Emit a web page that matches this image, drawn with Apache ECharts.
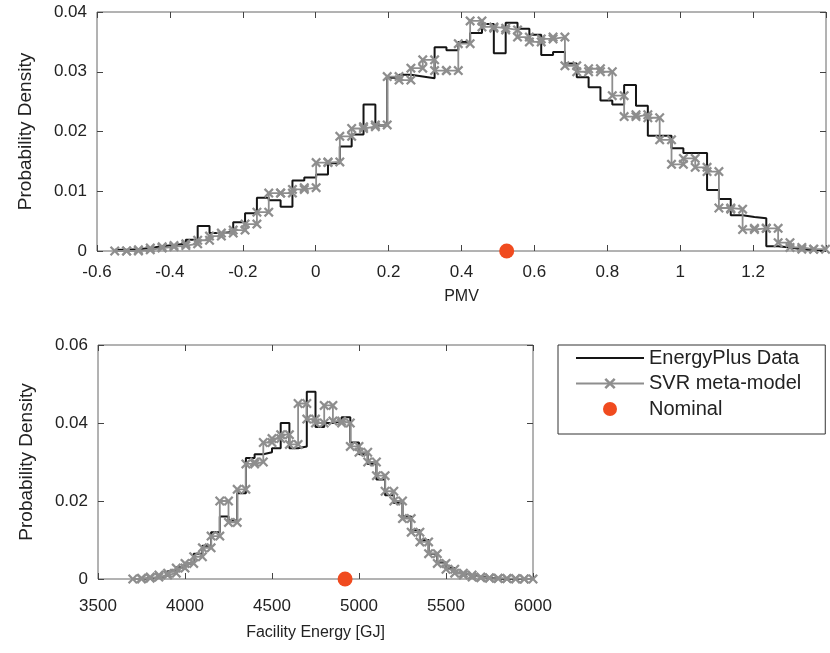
<!DOCTYPE html>
<html>
<head>
<meta charset="utf-8">
<script src="https://cdn.jsdelivr.net/npm/echarts@6/dist/echarts.min.js"></script>
<style>html,body{margin:0;padding:0;background:#fff;}#c{width:830px;height:653px;}</style>
</head>
<body>
<div id="c"></div>
<script>
// ---- Data ----
// Top panel: PMV histogram, bins of equal width starting at pmvFirstEdge
const pmvFirstEdge = -0.5513;
const pmvBinWidth = 0.0325;
const pmvEnergyPlus = [0.0002,0.0003,0.0005,0.0008,0.0010,0.0012,0.0019,0.0042,0.0030,0.0032,
  0.0048,0.0063,0.0089,0.0085,0.0074,0.0118,0.0123,0.0128,0.0147,0.0175,
  0.0195,0.0245,0.0210,0.0290,0.0295,0.0292,0.0289,0.0341,0.0336,0.0350,
  0.0365,0.0380,0.0331,0.0382,0.0372,0.0362,0.0328,0.0333,0.0314,0.0291,
  0.0274,0.0252,0.0245,0.0278,0.0243,0.0193,0.0193,0.0172,0.0164,0.0164,
  0.0102,0.0087,0.0060,0.0057,0.0055,0.0008,0.0006,0.0003,0.0002,0.0001];
const pmvSVR = [0,0,0.0002,0.0005,0.0007,0.0009,0.0012,0.0018,0.0025,0.0030,
  0.0035,0.0045,0.0065,0.0097,0.0097,0.0103,0.0106,0.0148,0.0149,0.0192,
  0.0205,0.0208,0.0211,0.0292,0.0286,0.0306,0.0320,0.0302,0.0302,0.0347,
  0.0385,0.0375,0.0373,0.0370,0.0358,0.0350,0.0355,0.0358,0.0310,0.0300,
  0.0305,0.0300,0.0260,0.0225,0.0228,0.0223,0.0186,0.0145,0.0155,0.0140,
  0.0133,0.0072,0.0070,0.0036,0.0038,0.0038,0.0014,0.0006,0.0003,0.0003];
const pmvNominal = 0.524;

// Bottom panel: Facility energy histogram [GJ]
const energyFirstEdge = 3700;
const energyBinWidth = 50;
const energyEnergyPlus = [0,0.0002,0.0004,0.0008,0.0020,0.0030,0.0040,0.0065,0.0085,0.0120,
  0.0160,0.0150,0.0220,0.0310,0.0320,0.0325,0.0335,0.0400,0.0335,0.0340,
  0.0480,0.0390,0.0400,0.0405,0.0415,0.0350,0.0320,0.0295,0.0255,0.0215,
  0.0195,0.0160,0.0125,0.0100,0.0065,0.0042,0.0028,0.0015,0.0010,0.0006,
  0.0003,0.0001,0,0,0,0];
const energySVR = [0,0.0002,0.0005,0.0010,0.0015,0.0028,0.0040,0.0057,0.0080,0.0110,
  0.0200,0.0145,0.0230,0.0295,0.0300,0.0350,0.0360,0.0370,0.0345,0.0450,
  0.0410,0.0400,0.0445,0.0405,0.0400,0.0340,0.0325,0.0300,0.0265,0.0225,
  0.0200,0.0155,0.0120,0.0095,0.0065,0.0040,0.0025,0.0015,0.0010,0.0005,
  0.0003,0.0002,0.0001,0.0001,0,0];
const energyNominal = 4920;

const pmvTicks = {min:-0.6, max:1.4, interval:0.2};
const densTopTicks = {min:0, max:0.04, interval:0.01};
const energyTicks = {min:3500, max:6000, interval:500};
const densBotTicks = {min:0, max:0.06, interval:0.02};

const names = ['EnergyPlus Data','SVR meta-model','Nominal'];

// ---- helpers ----
function stairs(first, width, vals){
  const pts = [];
  for (let k = 0; k < vals.length; k++){
    const a = +(first + width*k).toFixed(5), b = +(first + width*(k+1)).toFixed(5);
    pts.push([a, vals[k]]); pts.push([b, vals[k]]);
  }
  return pts;
}
const FONT = 'Liberation Sans, Arial, Helvetica, sans-serif';
const TXT = '#222';
const XPATH = 'path://M0,1.6 L1.6,0 L5,3.4 L8.4,0 L10,1.6 L6.6,5 L10,8.4 L8.4,10 L5,6.6 L1.6,10 L0,8.4 L3.4,5 Z';
const BLACK = '#151515', GREY = '#8e8e8e', ORANGE = '#f04b1f';
const TICK = {inside:true, length:6, lineStyle:{color:'#444'}};

function mainX(grid, t, name, gap, margin, fmt){
  return {type:'value', gridIndex:grid, position:'bottom', min:t.min, max:t.max, interval:t.interval,
    name:name, nameLocation:'middle', nameGap:gap, nameTextStyle:{fontFamily:FONT,fontSize:16,color:TXT},
    axisLine:{show:false, onZero:false}, splitLine:{show:false}, axisTick:TICK,
    axisLabel:{margin:margin, fontFamily:FONT, fontSize:17, color:TXT, formatter:fmt}};
}
function dupX(grid, t){
  return {type:'value', gridIndex:grid, position:'top', min:t.min, max:t.max, interval:t.interval,
    axisLine:{show:false, onZero:false}, splitLine:{show:false}, axisLabel:{show:false}, axisTick:TICK};
}
function mainY(grid, t){
  return {type:'value', gridIndex:grid, position:'left', min:t.min, max:t.max, interval:t.interval,
    name:'Probability Density', nameLocation:'middle', nameGap:62, nameRotate:90,
    nameTextStyle:{fontFamily:FONT,fontSize:19,color:TXT},
    axisLine:{show:false, onZero:false}, splitLine:{show:false}, axisTick:TICK,
    axisLabel:{margin:10, fontFamily:FONT, fontSize:17, color:TXT}};
}
function dupY(grid, t){
  return {type:'value', gridIndex:grid, position:'right', min:t.min, max:t.max, interval:t.interval,
    axisLine:{show:false, onZero:false}, splitLine:{show:false}, axisLabel:{show:false}, axisTick:TICK};
}
function epSeries(xi, yi, data){
  return {name:names[0], type:'line', xAxisIndex:xi, yAxisIndex:yi, data:data, symbol:'none',
    lineStyle:{color:BLACK, width:2}, itemStyle:{color:BLACK}, animation:false, z:2};
}
function svrSeries(xi, yi, data){
  return {name:names[1], type:'line', xAxisIndex:xi, yAxisIndex:yi, data:data, symbol:XPATH, symbolSize:10,
    showSymbol:true, lineStyle:{color:GREY, width:1.8}, itemStyle:{color:GREY}, animation:false, z:3};
}
function nomSeries(xi, yi, x){
  return {name:names[2], type:'scatter', xAxisIndex:xi, yAxisIndex:yi, data:[[x,0]], symbol:'circle',
    symbolSize:15, itemStyle:{color:ORANGE, opacity:1}, clip:false, animation:false, z:5};
}

const chart = echarts.init(document.getElementById('c'), null, {renderer:'canvas'});
chart.setOption({
  backgroundColor:'#fff',
  animation:false,
  grid:[
    {left:97, top:12, width:729, height:239, show:true, borderColor:'#666', borderWidth:1, backgroundColor:'transparent'},
    {left:98, top:345, width:435, height:234, show:true, borderColor:'#666', borderWidth:1, backgroundColor:'transparent'}
  ],
  xAxis:[
    mainX(0, pmvTicks, 'PMV', 38, 13, v => (v > 1.35 ? '' : String(+v.toFixed(1)))),
    dupX(0, pmvTicks),
    mainX(1, energyTicks, 'Facility Energy [GJ]', 46, 19, v => String(v)),
    dupX(1, energyTicks)
  ],
  yAxis:[
    mainY(0, densTopTicks), dupY(0, densTopTicks),
    mainY(1, densBotTicks), dupY(1, densBotTicks)
  ],
  legend:{
    orient:'vertical', left:558, top:345, padding:[3,24,15,17],
    itemWidth:68, itemHeight:14, itemGap:5.5,
    borderColor:'#333', borderWidth:1, backgroundColor:'#fff',
    textStyle:{fontFamily:FONT, fontSize:20, color:TXT},
    data:[
      {name:names[0], icon:'path://M0,0 L68,0 L68,2.2 L0,2.2 Z'},
      {name:names[1]},
      {name:names[2], icon:'circle'}
    ],
    selectedMode:false
  },
  series:[
    epSeries(0, 0, stairs(pmvFirstEdge, pmvBinWidth, pmvEnergyPlus)),
    svrSeries(0, 0, stairs(pmvFirstEdge, pmvBinWidth, pmvSVR)),
    nomSeries(0, 0, pmvNominal),
    epSeries(2, 2, stairs(energyFirstEdge, energyBinWidth, energyEnergyPlus)),
    svrSeries(2, 2, stairs(energyFirstEdge, energyBinWidth, energySVR)),
    nomSeries(2, 2, energyNominal)
  ]
});
</script>
</body>
</html>
